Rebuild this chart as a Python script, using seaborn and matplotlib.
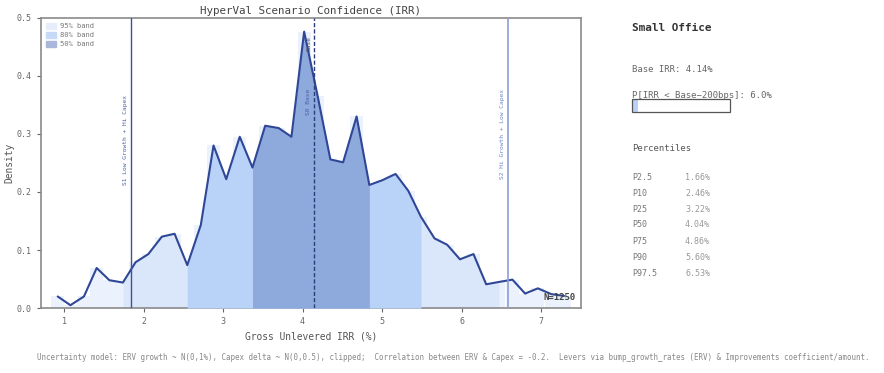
import matplotlib
matplotlib.use("Agg")
import matplotlib.pyplot as plt
from matplotlib.patches import Patch, Rectangle
import numpy as np
import pandas as pd
import seaborn as sns

# ---------------- data ----------------
irr_centers = [0.92, 1.08, 1.25, 1.41, 1.57, 1.74, 1.90, 2.06, 2.23, 2.39,
               2.55, 2.72, 2.88, 3.04, 3.21, 3.37, 3.53, 3.70, 3.86, 4.02,
               4.19, 4.35, 4.51, 4.68, 4.84, 5.00, 5.17, 5.33, 5.49, 5.66,
               5.82, 5.98, 6.15, 6.31, 6.47, 6.64, 6.80, 6.96, 7.13, 7.29]
density = [0.020, 0.005, 0.020, 0.069, 0.048, 0.044, 0.079, 0.093, 0.123, 0.128,
           0.074, 0.143, 0.280, 0.222, 0.295, 0.242, 0.314, 0.310, 0.295, 0.476,
           0.365, 0.256, 0.251, 0.330, 0.212, 0.220, 0.231, 0.202, 0.157, 0.120,
           0.109, 0.084, 0.093, 0.041, 0.045, 0.049, 0.025, 0.034, 0.024, 0.021]
bin_width = 0.163

pct_labels = ["P2.5", "P10", "P25", "P50", "P75", "P90", "P97.5"]
pct_values = [1.66, 2.46, 3.22, 4.04, 4.86, 5.60, 6.53]

base_irr = 4.14
s1_irr = 1.84
s2_irr = 6.585
prob_below = 6.0
n_sims = 1250
asset = "Small Office"

# ---------------- style ----------------
sns.set_theme(style="white")
plt.rcParams["font.family"] = ["DejaVu Sans Mono", "DejaVu Sans"]

fig = plt.figure(figsize=(8.84, 3.73), dpi=100)
ax = fig.add_axes([0.0464, 0.174, 0.6106, 0.7785])

df = pd.DataFrame({"irr": irr_centers, "density": density})
x = np.array(irr_centers)
y = np.array(density)

# histogram bars (light)
ax.bar(df["irr"], df["density"], width=bin_width, color="#ebf2fd", linewidth=0, zorder=1)

band_cols = {"95": "#dae7fb", "80": "#b9d3f8", "50": "#8eaadc"}
p = dict(zip(pct_labels, pct_values))
m95 = (x >= p["P2.5"]) & (x <= p["P97.5"])
m80 = (x >= p["P10"]) & (x <= p["P90"])
m50 = (x >= p["P25"]) & (x <= p["P75"])
ax.fill_between(x, 0, y, where=m95, color=band_cols["95"], linewidth=0, zorder=2)
ax.fill_between(x, 0, y, where=m80, color=band_cols["80"], linewidth=0, zorder=3)
ax.fill_between(x, 0, y, where=m50, color=band_cols["50"], linewidth=0, zorder=4)

sns.lineplot(data=df, x="irr", y="density", ax=ax, color="#2f4796", lw=1.5, zorder=6)

# scenario lines
ax.axvline(s1_irr, color="#3d5199", lw=1.0, zorder=7)
ax.axvline(base_irr, color="#2c3d7c", lw=1.0, ls=(0, (3, 1.5)), zorder=7)
ax.axvline(s2_irr, color="#8d9fd6", lw=1.2, zorder=7)
ax.text(s1_irr - 0.04, 0.29, "S1 Low Growth + Hi Capex", rotation=90, fontsize=4.5,
        color="#4a62aa", ha="right", va="center", zorder=8)
ax.text(s2_irr - 0.04, 0.30, "S2 Hi Growth + Low Capex", rotation=90, fontsize=4.5,
        color="#6f84c8", ha="right", va="center", zorder=8)
ax.text(base_irr - 0.03, 0.355, "S0 Base", rotation=90, fontsize=4.5,
        color="#4a62aa", ha="right", va="center", zorder=8)
ax.text(base_irr - 0.03, 0.455, "Base", rotation=90, fontsize=4.5,
        color="#555555", ha="right", va="center", zorder=8)

ax.text(0.99, 0.02, f"N={n_sims}", transform=ax.transAxes, ha="right", va="bottom",
        fontsize=6.5, color="#444444", fontweight="bold", zorder=9)

ax.set_xlim(0.71, 7.50)
ax.set_ylim(0, 0.5)
ax.set_xticks([1, 2, 3, 4, 5, 6, 7])
ax.set_yticks([0.0, 0.1, 0.2, 0.3, 0.4, 0.5])
ax.set_yticklabels([f"{v:.1f}" for v in [0.0, 0.1, 0.2, 0.3, 0.4, 0.5]])
ax.tick_params(axis="both", labelsize=6, colors="#666666", length=3, width=0.8,
               bottom=True, left=True)
ax.set_xlabel("Gross Unlevered IRR (%)", fontsize=6.9, color="#555555", labelpad=4)
ax.set_ylabel("Density", fontsize=6.9, color="#555555", labelpad=2)
ax.set_title("HyperVal Scenario Confidence (IRR)", fontsize=7.8, color="#444444", pad=3)
for s in ax.spines.values():
    s.set_color("#8a8a8a")
    s.set_linewidth(1.2)

handles = [Patch(color="#e6eefc", label="95% band"),
           Patch(color="#c6daf8", label="80% band"),
           Patch(color="#a9b7da", label="50% band")]
leg = ax.legend(handles=handles, loc="upper left", fontsize=5.1, frameon=False,
                handlelength=1.4, handleheight=0.9, borderaxespad=0.3,
                labelspacing=0.4, handletextpad=0.6)
for t in leg.get_texts():
    t.set_color("#777777")

# ---------------- right panel ----------------
fx = 632 / 884
fig.text(fx, 1 - 28 / 373, asset, fontsize=7.9, fontweight="bold", color="#333333",
         va="center", ha="left")
fig.text(fx, 1 - 70 / 373, f"Base IRR: {base_irr:.2f}%", fontsize=6.45, color="#666666",
         va="center", ha="left")
fig.text(fx, 1 - 96 / 373, f"P[IRR < Base\u2212200bps]: {prob_below:.1f}%", fontsize=6.45,
         color="#666666", va="center", ha="left")
bx, by, bw, bh = 632 / 884, 1 - 112 / 373, 98 / 884, 13 / 373
fig.patches.append(Rectangle((bx, by), bw * prob_below / 100, bh, transform=fig.transFigure,
                             facecolor="#b9d3f8", edgecolor="none", zorder=2))
fig.patches.append(Rectangle((bx, by), bw, bh, transform=fig.transFigure,
                             facecolor="none", edgecolor="#555555", lw=0.9, zorder=3))
fig.text(fx, 1 - 148 / 373, "Percentiles", fontsize=6.4, color="#555555",
         va="center", ha="left")
row_y = [177, 193, 209, 225, 241, 257, 273]
for lab, val, ry in zip(pct_labels, pct_values, row_y):
    fig.text(fx, 1 - ry / 373, lab, fontsize=6.0, color="#777777", va="center", ha="left")
    fig.text(685 / 884, 1 - ry / 373, f"{val:.2f}%", fontsize=6.0, color="#999999",
             va="center", ha="left")

fig.text(37 / 884, 1 - 358 / 373,
         "Uncertainty model: ERV growth ~ N(0,1%), Capex delta ~ N(0,0.5), clipped;  "
         "Correlation between ERV & Capex = -0.2.  Levers via bump_growth_rates (ERV) & "
         "Improvements coefficient/amount.",
         fontsize=5.45, color="#888888", va="center", ha="left")

fig.savefig("out.png", dpi=100)
